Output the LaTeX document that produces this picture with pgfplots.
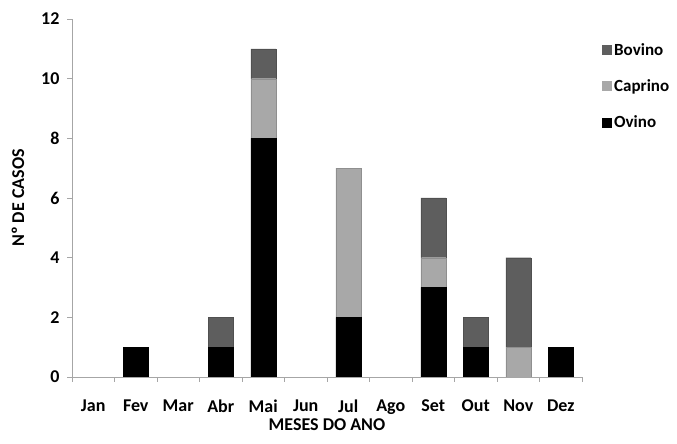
\documentclass[border=0pt]{standalone}
\usepackage{fontspec}
\setmainfont{Carlito}
\usepackage{pgfplots}
\pgfplotsset{compat=1.18}

\definecolor{bovino}{HTML}{5E5E5E}
\definecolor{caprino}{HTML}{A8A8A8}
\definecolor{ovino}{HTML}{000000}
\definecolor{axisgray}{HTML}{A6A6A6}

\begin{document}
\begin{tikzpicture}
\path[use as bounding box] (-72pt,-67pt) rectangle (605pt,377pt);
\begin{axis}[
  at={(0,0)}, anchor=south west,
  scale only axis,
  width=510pt, height=358pt,
  ybar stacked,
  bar width=25pt,
  xmin=-0.5, xmax=11.5,
  ymin=0, ymax=12,
  ytick={0,2,...,12},
  xtick={0,...,11},
  xticklabels={Jan,Fev,Mar,Abr,Mai,Jun,Jul,Ago,Set,Out,Nov,Dez},
  minor xtick={-0.5,0.5,...,11.5},
  major x tick style={draw=none},
  tick align=outside,
  major tick length=5pt,
  minor tick length=5pt,
  tick style={axisgray, line width=0.8pt},
  axis x line*=bottom,
  axis y line*=left,
  axis line style={axisgray, line width=0.8pt, -},
  font=\bfseries\fontsize{18}{20}\selectfont,
  ticklabel style={font=\bfseries\fontsize{18}{20}\selectfont},
  /pgf/number format/assume math mode=true,
  xticklabel style={yshift=-14pt},
  yticklabel style={xshift=-4pt},
  xlabel={MESES DO ANO},
  ylabel={Nº DE CASOS},
  xlabel style={at={(axis description cs:0.5,-0.134)}, anchor=center},
  ylabel style={at={(axis description cs:-0.106,0.5)}, anchor=center},
  legend style={at={(axis description cs:1,1)}, anchor=north west,
    xshift=20pt, yshift=-22pt, draw=none, fill=none,
    font=\bfseries\fontsize{17}{19}\selectfont,
    row sep=19pt, inner sep=0pt},
  legend cell align=left,
  reverse legend,
  legend image code/.code={\path[#1, draw=none] (0pt,-5pt) rectangle (10pt,5pt);},
]
\addplot[fill=ovino, draw=ovino] coordinates {
  (0,0) (1,1) (2,0) (3,1) (4,8) (5,0) (6,2) (7,0) (8,3) (9,1) (10,0) (11,1)};
\addplot[fill=caprino, draw=caprino!85!black, line width=0.3pt] coordinates {
  (0,0) (1,0) (2,0) (3,0) (4,2) (5,0) (6,5) (7,0) (8,1) (9,0) (10,1) (11,0)};
\addplot[fill=bovino, draw=bovino!85!black, line width=0.3pt] coordinates {
  (0,0) (1,0) (2,0) (3,1) (4,1) (5,0) (6,0) (7,0) (8,2) (9,1) (10,3) (11,0)};
\legend{Ovino,Caprino,Bovino}
\end{axis}
\end{tikzpicture}
\end{document}
